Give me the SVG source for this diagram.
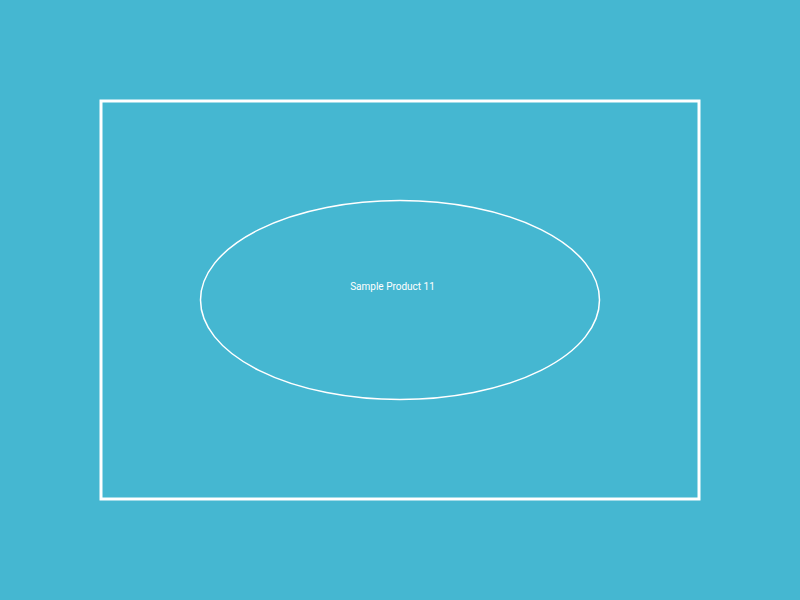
<svg xmlns="http://www.w3.org/2000/svg" width="800" height="600" viewBox="0 0 800 600">
<style>
.shape{fill:none;stroke:#ffffff}
.label{font-family:Roboto,"Liberation Sans",sans-serif;font-size:10px;fill:#ffffff;text-anchor:middle}
</style>
<rect x="0" y="0" width="800" height="600" fill="#45b7d1"/>
<g id="frame"><rect class="shape" x="101" y="101" width="598" height="398" stroke-width="3"/></g>
<g id="product"><ellipse class="shape" cx="400" cy="300" rx="199.5" ry="99.5" stroke-width="1.5"/>
<text class="label" x="392.5" y="290">Sample Product 11</text></g>
<g id="connectors"></g>
</svg>
